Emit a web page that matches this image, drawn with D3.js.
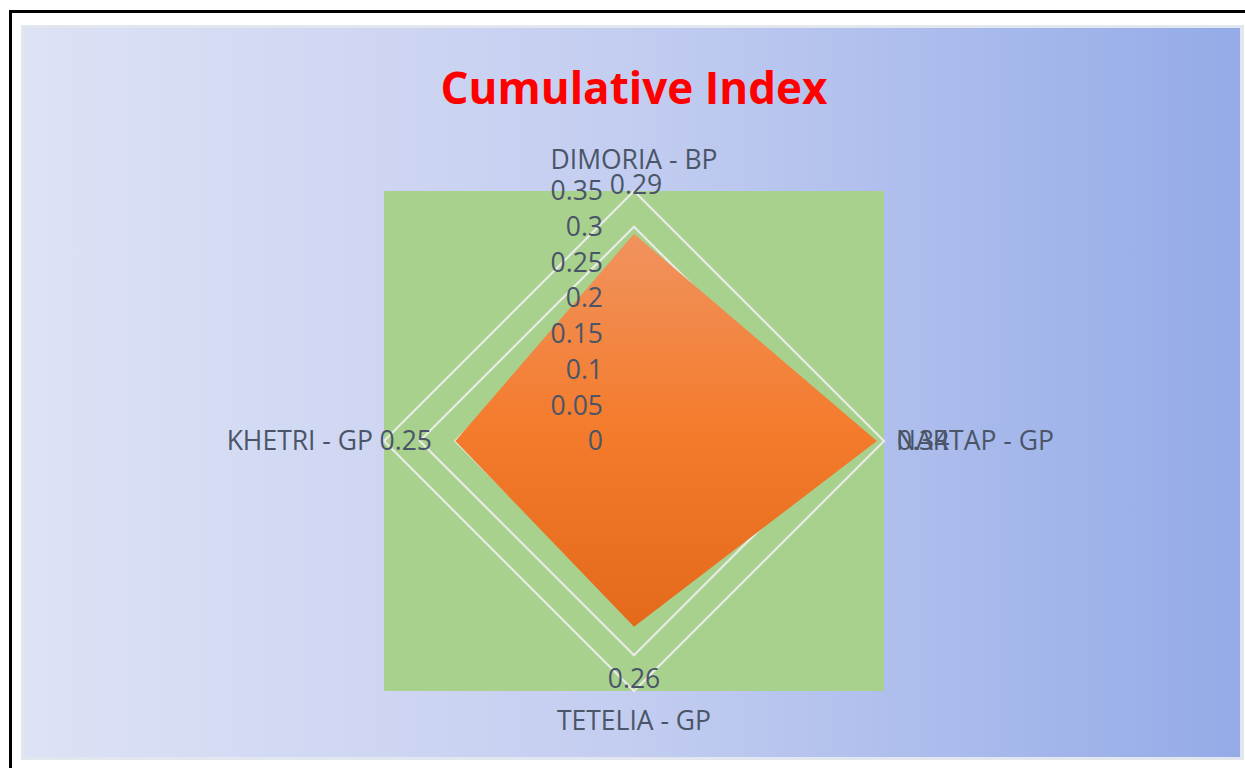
<!DOCTYPE html>
<html><head><meta charset="utf-8">
<script src="https://cdn.jsdelivr.net/npm/d3@7"></script>
<style>html,body{margin:0;padding:0;background:#fff;}svg{display:block;}</style>
</head><body>
<svg id="c" width="1245" height="768"></svg>
<script>
const categories = ["DIMORIA - BP", "NARTAP - GP", "TETELIA - GP", "KHETRI - GP"];
const values = [0.29, 0.34, 0.26, 0.25];
const tickValues = [0, 0.05, 0.1, 0.15, 0.2, 0.25, 0.3, 0.35];
const tickLabels = ["0", "0.05", "0.1", "0.15", "0.2", "0.25", "0.3", "0.35"];
const title = "Cumulative Index";

const svg = d3.select("#c");
const W = 1245, H = 768;
const cx = 634, cy = 441, R = 250;
const textColor = "#4a5568";
const font = "'Open Sans', sans-serif";

const defs = svg.append("defs");
const bg = defs.append("linearGradient").attr("id", "bg").attr("x1", 0).attr("x2", 1).attr("y1", 0).attr("y2", 0);
bg.append("stop").attr("offset", 0).attr("stop-color", "#dde2f5");
bg.append("stop").attr("offset", 0.5).attr("stop-color", "#c3cdf0");
bg.append("stop").attr("offset", 1).attr("stop-color", "#94abe8");
const og = defs.append("linearGradient").attr("id", "og").attr("x1", 0).attr("x2", 0).attr("y1", 0).attr("y2", 1);
og.append("stop").attr("offset", 0).attr("stop-color", "#f0935e");
og.append("stop").attr("offset", 0.5).attr("stop-color", "#f47b2c");
og.append("stop").attr("offset", 1).attr("stop-color", "#e4691b");

// outer frame
svg.append("rect").attr("x", 10.5).attr("y", 11.5).attr("width", W).attr("height", H).attr("fill", "#fff").attr("stroke", "#000").attr("stroke-width", 3);
svg.append("rect").attr("x", 21).attr("y", 25).attr("width", 1223).attr("height", 735).attr("fill", "#e2e6ef");
svg.append("rect").attr("x", 24).attr("y", 28).attr("width", 1216).attr("height", 729).attr("fill", "url(#bg)");

// title
svg.append("text").attr("x", cx).attr("y", 104).attr("text-anchor", "middle")
  .attr("font-family", font).attr("font-weight", "bold").attr("font-size", 44).attr("fill", "#ff0000").text(title);

const r = d3.scaleLinear().domain([0, 0.35]).range([0, R]);
const angle = d3.scalePoint().domain(categories).range([0, 2 * Math.PI * (categories.length - 1) / categories.length]);
const pt = (c, v) => [cx + r(v) * Math.sin(angle(c)), cy - r(v) * Math.cos(angle(c))];

// plot area
svg.append("rect").attr("x", cx - R).attr("y", cy - R).attr("width", 2 * R).attr("height", 2 * R).attr("fill", "#a9d18e");

// gridlines
tickValues.filter(t => t > 0).forEach(t => {
  svg.append("polygon").attr("points", categories.map(c => pt(c, t).join(",")).join(" "))
    .attr("fill", "none").attr("stroke", "#e8ebe6").attr("stroke-width", 2.2);
});

// series
svg.append("polygon").attr("points", categories.map((c, i) => pt(c, values[i]).join(",")).join(" "))
  .attr("fill", "url(#og)").attr("stroke", "none");

const fs = 26.5;
// tick labels
tickValues.forEach((t, i) => {
  svg.append("text").attr("x", 603).attr("y", cy - r(t)).attr("dy", "0.35em").attr("text-anchor", "end")
    .attr("font-family", font).attr("font-size", fs).attr("fill", textColor).text(tickLabels[i]);
});

// category labels
const catPos = [
  {x: cx, y: 160, anchor: "middle"},
  {x: 896, y: cy, anchor: "start"},
  {x: cx, y: 721, anchor: "middle"},
  {x: 373, y: cy, anchor: "end"}
];
categories.forEach((c, i) => {
  svg.append("text").attr("x", catPos[i].x).attr("y", catPos[i].y).attr("dy", "0.35em").attr("text-anchor", catPos[i].anchor)
    .attr("font-family", font).attr("font-size", fs).attr("fill", textColor).text(c);
});

// data labels
const dlPos = [
  {x: 636, y: 185, anchor: "middle"},
  {x: 897, y: cy, anchor: "start"},
  {x: cx, y: 679, anchor: "middle"},
  {x: 432, y: cy, anchor: "end"}
];
values.forEach((v, i) => {
  svg.append("text").attr("x", dlPos[i].x).attr("y", dlPos[i].y).attr("dy", "0.35em").attr("text-anchor", dlPos[i].anchor)
    .attr("font-family", font).attr("font-size", fs).attr("fill", textColor).text(v.toFixed(2));
});
</script>
</body></html>
